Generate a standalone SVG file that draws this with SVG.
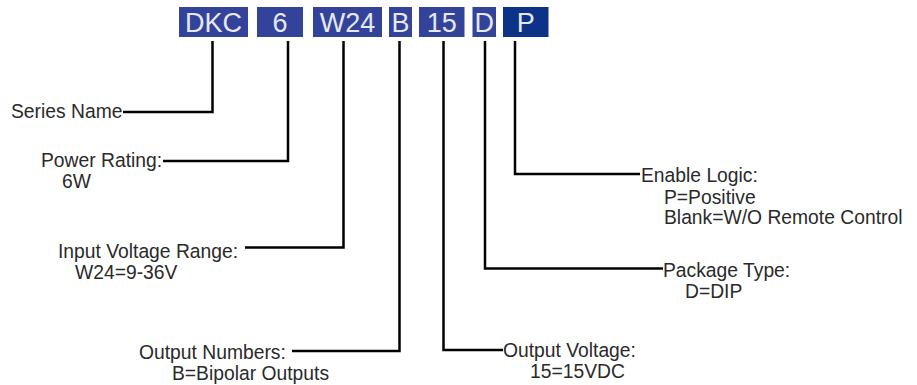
<svg xmlns="http://www.w3.org/2000/svg" width="917" height="385" viewBox="0 0 917 385">
<style>
.box{fill:#33439a}
.boxd{fill:#0d3388}
.bt{font-family:"Liberation Sans",Arial,sans-serif;font-size:27px;fill:#e6e8f4;text-anchor:middle}
.lbl{font-family:"Liberation Sans",Arial,sans-serif;font-size:19.3px;fill:#2a2a2a}
.ln{fill:none;stroke:#000;stroke-width:2.5}
</style>
<rect width="917" height="385" fill="#fff"/>
<g id="code">
<g id="box-dkc"><rect class="box" x="179" y="7" width="69" height="30"/><text class="bt" x="213.5" y="32">DKC</text></g>
<g id="box-6"><rect class="box" x="257" y="7" width="46" height="30"/><text class="bt" x="280" y="32">6</text></g>
<g id="box-w24"><rect class="box" x="313" y="7" width="69" height="30"/><text class="bt" x="347.5" y="32">W24</text></g>
<g id="box-b"><rect class="box" x="389" y="7" width="23" height="30"/><text class="bt" x="400.5" y="32">B</text></g>
<g id="box-15"><rect class="box" x="419" y="7" width="45.5" height="30"/><text class="bt" x="441.7" y="32">15</text></g>
<g id="box-d"><rect class="box" x="472.5" y="7" width="23.5" height="30"/><text class="bt" x="484.2" y="32">D</text></g>
<g id="box-p"><rect class="boxd" x="503" y="7" width="45.5" height="30"/><text class="bt" x="525.7" y="32">P</text></g>
</g>
<g id="connectors">
<polyline class="ln" points="212.5,41 212.5,112 123,112"/>
<polyline class="ln" points="288,41 288,161 163,161"/>
<polyline class="ln" points="343.5,41 343.5,247.5 245,247.5"/>
<polyline class="ln" points="399.5,41 399.5,351 292,351"/>
<polyline class="ln" points="443.5,41 443.5,350 503,350"/>
<polyline class="ln" points="485,41 485,268.5 663,268.5"/>
<polyline class="ln" points="515,41 515,174 640,174"/>
</g>
<g id="series"><text class="lbl" x="11" y="118">Series Name</text></g>
<g id="power"><text class="lbl" x="41" y="167">Power Rating:</text><text class="lbl" x="62" y="188">6W</text></g>
<g id="input"><text class="lbl" x="58" y="258">Input Voltage Range:</text><text class="lbl" x="75" y="278.5">W24=9-36V</text></g>
<g id="outnum"><text class="lbl" x="139" y="359">Output Numbers:</text><text class="lbl" x="172" y="380">B=Bipolar Outputs</text></g>
<g id="outvolt"><text class="lbl" x="503" y="357">Output Voltage:</text><text class="lbl" x="530" y="378">15=15VDC</text></g>
<g id="package"><text class="lbl" x="663" y="277">Package Type:</text><text class="lbl" x="685" y="298">D=DIP</text></g>
<g id="enable"><text class="lbl" x="641" y="182">Enable Logic:</text><text class="lbl" x="664" y="203.5">P=Positive</text><text class="lbl" x="664" y="224">Blank=W/O Remote Control</text></g>
</svg>
